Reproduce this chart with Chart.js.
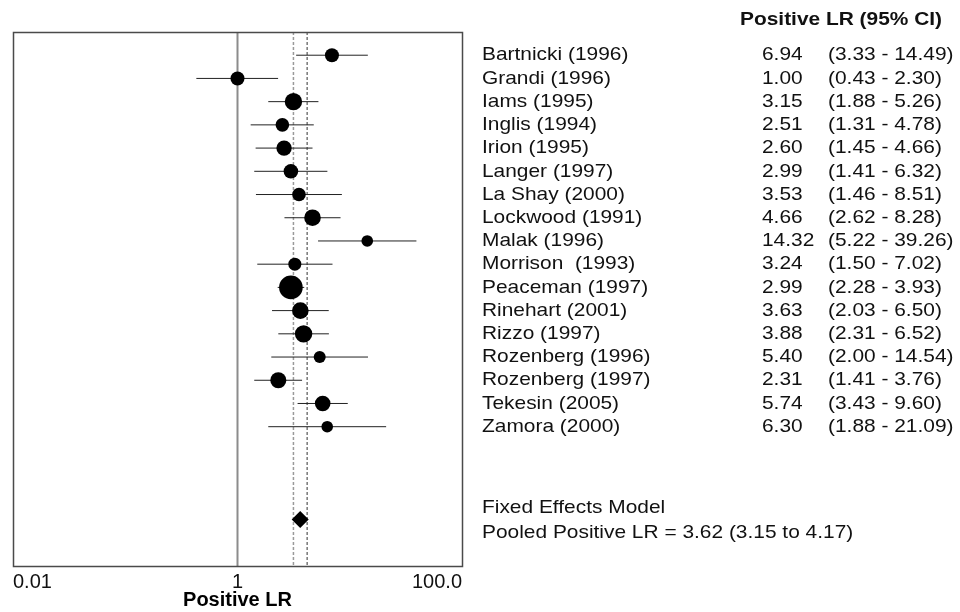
<!DOCTYPE html>
<html>
<head>
<meta charset="utf-8">
<script src="https://cdn.jsdelivr.net/npm/chart.js@4.4.1/dist/chart.umd.min.js"></script>
<style>
  html, body { margin: 0; padding: 0; background: #fff; }
  #wrap { width: 960px; height: 612px; position: relative; }
</style>
</head>
<body>
<div id="wrap"><canvas id="forest"></canvas></div>
<script>
// ---- study data: positive likelihood ratios with 95% confidence intervals ----
const studies = [
  "Bartnicki (1996)", "Grandi (1996)", "Iams (1995)", "Inglis (1994)", "Irion (1995)",
  "Langer (1997)", "La Shay (2000)", "Lockwood (1991)", "Malak (1996)", "Morrison  (1993)",
  "Peaceman (1997)", "Rinehart (2001)", "Rizzo (1997)", "Rozenberg (1996)", "Rozenberg (1997)",
  "Tekesin (2005)", "Zamora (2000)"
];
const positiveLR = [6.94, 1.00, 3.15, 2.51, 2.60, 2.99, 3.53, 4.66, 14.32, 3.24, 2.99, 3.63, 3.88, 5.40, 2.31, 5.74, 6.30];
const ciLower   = [3.33, 0.43, 1.88, 1.31, 1.45, 1.41, 1.46, 2.62, 5.22, 1.50, 2.28, 2.03, 2.31, 2.00, 1.41, 3.43, 1.88];
const ciUpper   = [14.49, 2.30, 5.26, 4.78, 4.66, 6.32, 8.51, 8.28, 39.26, 7.02, 3.93, 6.50, 6.52, 14.54, 3.76, 9.60, 21.09];

// pooled estimate (fixed effects model)
const pooledLR = 3.62;
const pooledLower = 3.15;
const pooledUpper = 4.17;

// x axis ticks
const axisTickValues = [0.01, 1, 100];
const axisTickLabels = ["0.01", "1", "100.0"];

// ---- presentation ----
// marker radius per study (study weight)
const markerRadius = [7, 7, 8.7, 6.8, 7.7, 7.3, 6.8, 8.3, 5.8, 6.5, 11.8, 8.3, 8.7, 6, 8, 7.8, 5.8];
const pooledRow = 20;
const FONT = '"Liberation Sans", Arial, Helvetica, sans-serif';
const TEXT_STRETCH = 1.1;

const fmt = v => v.toFixed(2);

// CI whiskers as one broken polyline (null points separate the segments)
const whiskers = [];
studies.forEach((_, i) => {
  whiskers.push({ x: ciLower[i], y: i }, { x: ciUpper[i], y: i }, { x: null, y: null });
});

const refLine = (xv, color, width, dash) => ({
  type: 'scatter',
  data: [{ x: xv, y: -1 }, { x: xv, y: 22 }],
  showLine: true,
  borderColor: color,
  borderWidth: width,
  borderDash: dash,
  pointRadius: 0,
  order: 4
});

// slightly widened text for the right-hand table
function drawText(ctx, text, x, y, font) {
  ctx.save();
  ctx.font = font;
  ctx.fillStyle = '#111';
  ctx.textBaseline = 'middle';
  ctx.textAlign = 'left';
  ctx.translate(x, y);
  ctx.scale(TEXT_STRETCH, 1);
  ctx.fillText(text, 0, 0);
  ctx.restore();
}

const framePlugin = {
  id: 'frame',
  afterDatasetsDraw(chart) {
    const { ctx, chartArea: a } = chart;
    ctx.save();
    ctx.strokeStyle = '#4a4a4a';
    ctx.lineWidth = 1.5;
    ctx.strokeRect(a.left + 0.5, a.top + 0.5, a.right - a.left, a.bottom - a.top);
    ctx.restore();
  }
};

const tablePlugin = {
  id: 'table',
  afterDraw(chart) {
    const ctx = chart.ctx;
    const ys = chart.scales.y;
    const regular = '19px ' + FONT;
    const bold = 'bold 19px ' + FONT;
    drawText(ctx, 'Positive LR (95% CI)', 740, 20, bold);
    studies.forEach((name, i) => {
      const y = ys.getPixelForValue(i);
      drawText(ctx, name, 482, y, regular);
      drawText(ctx, fmt(positiveLR[i]), 762, y, regular);
      drawText(ctx, '(' + fmt(ciLower[i]) + ' - ' + fmt(ciUpper[i]) + ')', 828, y, regular);
    });
    drawText(ctx, 'Fixed Effects Model', 482, ys.getPixelForValue(pooledRow - 0.5), regular);
    drawText(ctx, 'Pooled Positive LR = ' + fmt(pooledLR) + ' (' + fmt(pooledLower) + ' to ' + fmt(pooledUpper) + ')',
      482, ys.getPixelForValue(pooledRow + 0.55), regular);
  }
};

new Chart(document.getElementById('forest'), {
  type: 'scatter',
  data: {
    datasets: [
      refLine(1, '#8c8c8c', 2, []),
      refLine(pooledLower, '#9a9a9a', 1.5, [3, 2]),
      refLine(pooledUpper, '#333', 1, [3, 2]),
      {
        type: 'scatter',
        data: whiskers,
        showLine: true,
        spanGaps: false,
        borderColor: '#222',
        borderWidth: 1,
        pointRadius: 0,
        order: 3
      },
      {
        type: 'bubble',
        data: positiveLR.map((v, i) => ({ x: v, y: i, r: markerRadius[i] })),
        backgroundColor: '#000',
        borderWidth: 0,
        order: 2
      },
      {
        type: 'scatter',
        data: [{ x: pooledLR, y: pooledRow }],
        pointStyle: 'rectRot',
        pointRadius: 8.5,
        backgroundColor: '#000',
        borderWidth: 0,
        order: 1
      }
    ]
  },
  options: {
    responsive: true,
    maintainAspectRatio: false,
    animation: false,
    devicePixelRatio: 1,
    layout: { padding: { left: 13, right: 498, top: 32, bottom: 0 } },
    plugins: { legend: { display: false }, tooltip: { enabled: false } },
    scales: {
      x: {
        type: 'logarithmic',
        min: 0.01,
        max: 100,
        grid: { display: false, drawTicks: false },
        border: { display: false },
        afterBuildTicks(scale) {
          scale.ticks = axisTickValues.map(v => ({ value: v }));
        },
        afterFit(scale) { scale.height = 46; },
        ticks: {
          autoSkip: false,
          maxRotation: 0,
          align: 'inner',
          padding: 4,
          color: '#111',
          font: { family: FONT, size: 20 },
          callback: (value, index) => axisTickLabels[index]
        },
        title: {
          display: true,
          text: 'Positive LR',
          color: '#000',
          font: { family: FONT, size: 20, weight: 'bold' },
          padding: { top: 0, bottom: 0 }
        }
      },
      y: {
        type: 'linear',
        min: -1,
        max: 22,
        reverse: true,
        display: false
      }
    }
  },
  plugins: [framePlugin, tablePlugin]
});
</script>
</body>
</html>
